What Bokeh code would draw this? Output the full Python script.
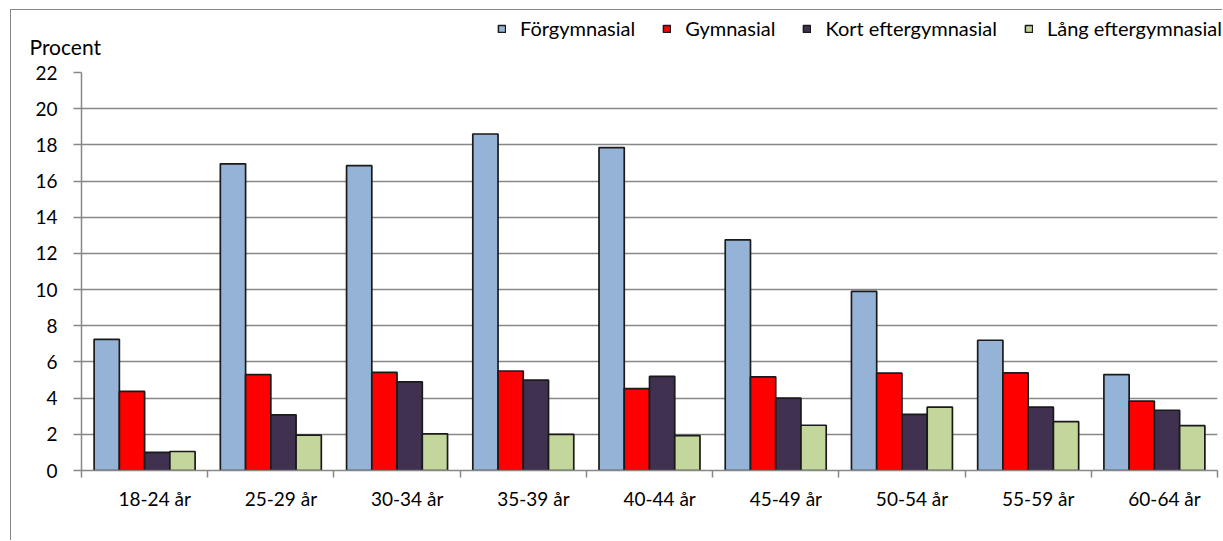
import numpy as np
from bokeh.plotting import figure
from bokeh.layouts import column
from bokeh.models import (ColumnDataSource, Range1d, FixedTicker, Legend, LegendItem, Label)
from bokeh.transform import dodge
from bokeh.embed import file_html
from bokeh.resources import INLINE

categories = ["18-24 år", "25-29 år", "30-34 år", "35-39 år", "40-44 år",
              "45-49 år", "50-54 år", "55-59 år", "60-64 år"]
series_names = ["Förgymnasial", "Gymnasial", "Kort eftergymnasial", "Lång eftergymnasial"]
forgymnasial = [7.25, 16.95, 16.85, 18.6, 17.85, 12.75, 9.9, 7.2, 5.3]
gymnasial = [4.37, 5.3, 5.42, 5.5, 4.53, 5.18, 5.38, 5.4, 3.83]
kort_efter = [1.0, 3.08, 4.9, 5.0, 5.2, 4.0, 3.1, 3.5, 3.33]
lang_efter = [1.05, 1.95, 2.03, 2.0, 1.93, 2.5, 3.5, 2.7, 2.48]
y_ticks = list(range(0, 23, 2))
y_label = "Procent"

colors = ["#95B3D7", "#FF0000", "#403151", "#C3D69B"]
FONT = "Lato"
FS = "19px"
GRAY = "#878787"
OUTLINE = "#1a1a1a"

n = len(categories)
centers = np.arange(n) + 0.5
source = ColumnDataSource(dict(x=centers, f=forgymnasial, g=gymnasial,
                               k=kort_efter, l=lang_efter))
offsets = [-0.3, -0.1, 0.1, 0.3]
fields = ["f", "g", "k", "l"]

# ---------- main chart ----------
p = figure(width=1211, height=480, output_backend="svg", toolbar_location=None,
           x_range=Range1d(0, n), y_range=Range1d(0, 22),
           min_border_left=70, min_border_right=5, min_border_top=12,
           min_border_bottom=70)
p.outline_line_color = None
p.background_fill_color = "white"
p.border_fill_color = "white"

for off, fld, col in zip(offsets, fields, colors):
    p.vbar(x=dodge("x", off, range=p.x_range), top=fld, width=0.2, bottom=0,
           source=source, fill_color=col, line_color=OUTLINE, line_width=1.7)

# ---------- header strip: legend + "Procent" ----------
# legend swatch renderers: zero-size glyphs outside the visible y range
top = figure(width=1211, height=50, output_backend="svg", toolbar_location=None,
             x_axis_type=None, y_axis_type=None, min_border=0,
             x_range=p.x_range, y_range=Range1d(100, 101))
top.outline_line_color = None
top.xgrid.visible = False
top.ygrid.visible = False
top.border_fill_color = "white"
for fig in (top, p):
    try:
        fig.frame_align = False
    except Exception:
        pass

swatches = []
for off, fld, col in zip(offsets, fields, colors):
    swatches.append(top.vbar(x=dodge("x", off, range=p.x_range), top=fld, bottom=fld,
                             width=0, source=source, fill_color=col,
                             line_color=OUTLINE, line_width=1.5))

legend = Legend(items=[LegendItem(label=nm, renderers=[r]) for nm, r in zip(series_names, swatches)],
                orientation="horizontal", location=(486, 20),
                glyph_width=9, glyph_height=9, label_standoff=14, spacing=27,
                padding=0, margin=0, border_line_color=None, background_fill_alpha=0,
                label_text_font=FONT, label_text_font_size="20px",
                label_text_color="black", label_height=20)
top.add_layout(legend, "center")

top.add_layout(Label(x=18, y=14, x_units="screen", y_units="screen", text=y_label,
                     text_font=FONT, text_font_size="21px", text_color="black",
                     text_baseline="alphabetic"))

# y axis
p.yaxis.ticker = FixedTicker(ticks=y_ticks)
p.yaxis.axis_line_color = GRAY
p.yaxis.axis_line_width = 1.5
p.yaxis.major_tick_line_color = GRAY
p.yaxis.major_tick_line_width = 1.5
p.yaxis.major_tick_out = 8
p.yaxis.major_tick_in = 0
p.yaxis.minor_tick_line_color = None
p.yaxis.major_label_standoff = 16
p.yaxis.major_label_text_font = FONT
p.yaxis.major_label_text_font_size = FS
p.yaxis.major_label_text_color = "black"

# x axis: labels at category centres (shifted slightly right), ticks at boundaries
label_pos = [float(c) + 0.08 for c in centers]
p.xaxis.ticker = FixedTicker(ticks=label_pos, minor_ticks=list(range(0, n + 1)))
p.xaxis.major_label_overrides = {lp: c for lp, c in zip(label_pos, categories)}
p.xaxis.axis_line_color = GRAY
p.xaxis.axis_line_width = 1.5
p.xaxis.major_tick_line_color = None
p.xaxis.minor_tick_line_color = GRAY
p.xaxis.minor_tick_line_width = 1.5
p.xaxis.minor_tick_out = 7
p.xaxis.minor_tick_in = 0
p.xaxis.major_label_standoff = 9
p.xaxis.major_label_text_font = FONT
p.xaxis.major_label_text_font_size = FS
p.xaxis.major_label_text_color = "black"

p.xgrid.visible = False
p.ygrid.ticker = FixedTicker(ticks=y_ticks)
p.ygrid.grid_line_color = GRAY
p.ygrid.grid_line_width = 1.5

layout = column(top, p, spacing=0)
layout.styles = {"margin-left": "10px", "margin-top": "9px",
                 "border-left": "1px solid #868686", "border-top": "1px solid #868686"}

open("out.html", "w").write(file_html(layout, INLINE))
